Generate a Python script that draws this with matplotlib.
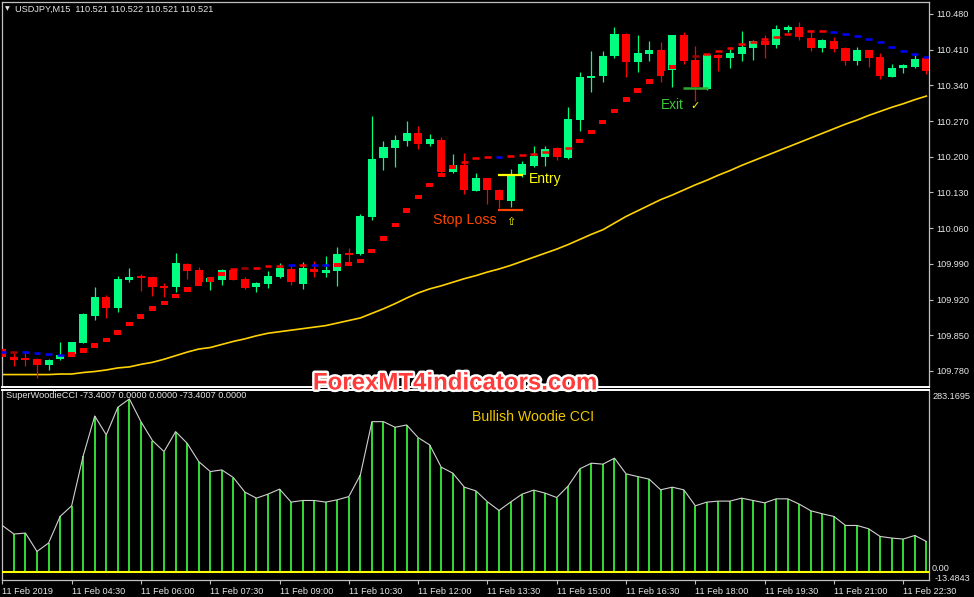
import numpy as np
import matplotlib
matplotlib.use("Agg")
import matplotlib.pyplot as plt
import matplotlib.patheffects as pe
from matplotlib import transforms

plt.rcParams["font.family"] = ["Liberation Sans", "DejaVu Sans"]

nan = float("nan")

# USDJPY M15, 11 Feb 2019, one bar per 15 minutes starting 03:00
opens = [109.823, 109.807, 109.804, 109.804, 109.792, 109.803, 109.813, 109.835, 109.888, 109.925,
         109.904, 109.958, 109.966, 109.964, 109.946, 109.945, 109.990, 109.978, 109.954, 109.959,
         109.978, 109.960, 109.945, 109.951, 109.965, 109.980, 109.951, 109.979, 109.973, 109.977,
         110.010, 110.009, 110.081, 110.198, 110.218, 110.231, 110.247, 110.225, 110.233, 110.171,
         110.184, 110.133, 110.158, 110.135, 110.113, 110.164, 110.182, 110.200, 110.218, 110.198,
         110.272, 110.356, 110.359, 110.398, 110.441, 110.386, 110.402, 110.409, 110.370, 110.438,
         110.390, 110.333, 110.400, 110.393, 110.402, 110.414, 110.427, 110.419, 110.449, 110.454,
         110.432, 110.414, 110.427, 110.414, 110.388, 110.409, 110.396, 110.357, 110.376, 110.377,
         110.393]
highs = [109.828, 109.815, 109.818, 109.805, 109.804, 109.836, 109.837, 109.894, 109.945, 109.929,
         109.966, 109.981, 109.970, 109.965, 109.952, 110.011, 109.991, 109.984, 109.965, 109.980,
         109.979, 109.965, 109.955, 109.976, 109.991, 109.986, 109.994, 109.996, 110.006, 110.024,
         110.022, 110.088, 110.279, 110.230, 110.243, 110.271, 110.260, 110.245, 110.239, 110.205,
         110.207, 110.169, 110.159, 110.137, 110.177, 110.192, 110.221, 110.222, 110.219, 110.297,
         110.367, 110.407, 110.408, 110.454, 110.442, 110.439, 110.427, 110.425, 110.439, 110.444,
         110.418, 110.401, 110.401, 110.413, 110.447, 110.429, 110.439, 110.458, 110.458, 110.465,
         110.449, 110.431, 110.434, 110.415, 110.415, 110.410, 110.403, 110.381, 110.381, 110.400,
         110.396]
lows = [109.796, 109.790, 109.790, 109.767, 109.782, 109.802, 109.811, 109.834, 109.879, 109.883,
        109.896, 109.955, 109.937, 109.927, 109.926, 109.934, 109.960, 109.949, 109.939, 109.949,
        109.958, 109.941, 109.935, 109.943, 109.963, 109.949, 109.941, 109.965, 109.965, 109.947,
        109.988, 110.007, 110.076, 110.174, 110.179, 110.221, 110.215, 110.221, 110.168, 110.168,
        110.127, 110.132, 110.107, 110.099, 110.101, 110.161, 110.179, 110.182, 110.194, 110.195,
        110.251, 110.328, 110.347, 110.393, 110.357, 110.366, 110.388, 110.347, 110.336, 110.381,
        110.309, 110.331, 110.369, 110.375, 110.388, 110.390, 110.394, 110.414, 110.445, 110.429,
        110.407, 110.405, 110.406, 110.380, 110.379, 110.377, 110.352, 110.356, 110.364, 110.374,
        110.362]
closes = [109.807, 109.802, 109.803, 109.792, 109.802, 109.811, 109.836, 109.892, 109.925, 109.904,
          109.960, 109.964, 109.964, 109.945, 109.944, 109.991, 109.976, 109.955, 109.963, 109.978,
          109.958, 109.943, 109.953, 109.966, 109.981, 109.954, 109.981, 109.975, 109.978, 110.009,
          110.008, 110.084, 110.196, 110.220, 110.233, 110.247, 110.226, 110.235, 110.170, 110.184,
          110.134, 110.158, 110.134, 110.115, 110.164, 110.185, 110.202, 110.216, 110.200, 110.274,
          110.357, 110.358, 110.398, 110.441, 110.385, 110.403, 110.409, 110.369, 110.438, 110.388,
          110.337, 110.400, 110.393, 110.403, 110.416, 110.427, 110.419, 110.451, 110.455, 110.434,
          110.414, 110.429, 110.412, 110.388, 110.409, 110.394, 110.358, 110.375, 110.378, 110.391,
          110.368]

# slow moving average (yellow)
ma = [109.773, 109.773, 109.773, 109.773, 109.773, 109.774, 109.774, 109.777, 109.779, 109.782,
      109.786, 109.788, 109.793, 109.797, 109.803, 109.810, 109.817, 109.823, 109.826, 109.832,
      109.838, 109.843, 109.849, 109.854, 109.857, 109.860, 109.863, 109.866, 109.869, 109.874,
      109.879, 109.884, 109.893, 109.902, 109.912, 109.923, 109.933, 109.941, 109.947, 109.954,
      109.961, 109.967, 109.974, 109.980, 109.987, 109.995, 110.003, 110.011, 110.019, 110.028,
      110.038, 110.048, 110.057, 110.070, 110.083, 110.094, 110.105, 110.116, 110.125, 110.135,
      110.145, 110.154, 110.164, 110.173, 110.183, 110.192, 110.201, 110.210, 110.219, 110.228,
      110.237, 110.246, 110.255, 110.264, 110.272, 110.281, 110.289, 110.297, 110.304, 110.312,
      110.319]

# trailing stop dots below price (uptrend)
stops = [nan, nan, nan, nan, nan, nan, 109.812, 109.820, 109.830, 109.841,
         109.856, 109.872, 109.887, 109.902, 109.913, 109.927, 109.940, 109.952, 109.959, 109.970,
         nan, nan, nan, nan, nan, nan, nan, nan, nan, 109.988,
         109.990, 109.996, 110.015, 110.040, 110.066, 110.095, 110.121, 110.145, 110.164, 110.180,
         nan, nan, nan, nan, nan, nan, nan, nan, nan, nan,
         110.231, 110.249, 110.268, 110.290, 110.312, 110.330, 110.348, 110.363, 110.376, nan,
         nan, nan, nan, nan, nan, nan, nan, nan, nan, nan,
         nan, nan, nan, nan, nan, nan, nan, nan, nan, nan,
         nan]

# dashed line above price (downtrend) and its colour per bar: r red, d dark red, b blue
dash_line = [109.817, 109.817, 109.817, 109.815, 109.813, 109.811, nan, nan, nan, nan,
             nan, nan, nan, nan, nan, nan, nan, nan, nan, nan,
             109.980, 109.981, 109.982, 109.985, 109.986, 109.987, 109.987, 109.987, 109.987, nan,
             nan, nan, nan, nan, nan, nan, nan, nan, nan, nan,
             110.189, 110.198, 110.200, 110.200, 110.201, 110.203, 110.205, 110.209, 110.213, 110.217,
             nan, nan, nan, nan, nan, nan, nan, nan, nan, 110.394,
             110.398, 110.401, 110.408, 110.414, 110.421, 110.425, 110.431, 110.435, 110.441, 110.444,
             110.446, 110.446, 110.445, 110.441, 110.436, 110.431, 110.425, 110.415, 110.407, 110.402,
             110.396]
dash_kind = ("bdbbbb" + "." * 14 + "rdrrrbrbb" + "." * 11 + "rrrbrrrrrr" + "." * 9
             + "rdrrrrrrrrrrr" + "bbbbbbbbb")

# SuperWoodieCCI histogram
cci = [74.9, 61.0, 62.6, 32.8, 46.4, 89.5, 106.8, 187.7, 252.4, 221.7,
       266.5, 280.0, 243.2, 212.4, 194.6, 227.0, 208.2, 178.5, 162.3, 165.0,
       152.6, 129.0, 119.2, 125.7, 133.8, 112.8, 115.4, 115.4, 112.8, 116.5,
       121.8, 157.0, 243.2, 243.2, 234.1, 237.8, 217.3, 205.5, 169.4, 159.7,
       137.0, 131.0, 113.3, 99.2, 112.8, 125.7, 132.2, 127.3, 120.2, 139.1,
       166.7, 175.9, 174.3, 184.0, 158.6, 154.2, 150.0, 132.7, 137.0, 132.7,
       106.8, 112.8, 114.4, 114.4, 119.2, 115.4, 111.6, 118.1, 118.1, 109.5,
       98.7, 93.8, 89.5, 74.9, 74.9, 69.6, 57.1, 54.5, 52.9, 58.7,
       49.0]

price_ticks = [109.780, 109.850, 109.920, 109.990, 110.060, 110.130,
               110.200, 110.270, 110.340, 110.410, 110.480]
time_ticks = [0, 6, 12, 18, 24, 30, 36, 42, 48, 54, 60, 66, 72, 78]
time_labels = ["11 Feb 2019", "11 Feb 04:30", "11 Feb 06:00", "11 Feb 07:30", "11 Feb 09:00",
               "11 Feb 10:30", "11 Feb 12:00", "11 Feb 13:30", "11 Feb 15:00", "11 Feb 16:30",
               "11 Feb 18:00", "11 Feb 19:30", "11 Feb 21:00", "11 Feb 22:30"]

entry_price, stop_price, exit_price = 110.164, 110.096, 110.334
entry_bars = (42.95, 45.05)
exit_bars = (58.95, 61.1)

BULL = "#00FF80"
BEAR = "#FF0000"
AXC = "#C0C0C0"
TXT = "#E6E6E6"
W, H = 974, 597

fig = plt.figure(figsize=(W / 100, H / 100), dpi=100, facecolor="black")
ax = fig.add_axes([2 / W, (H - 387) / H, 927 / W, 385 / H], facecolor="black")
ax2 = fig.add_axes([2 / W, (H - 580) / H, 927 / W, 190 / H], facecolor="black")

idx = np.arange(len(opens))
o, hi, lo, c = (np.array(v) for v in (opens, highs, lows, closes))
up = c >= o
col = np.where(up, BULL, BEAR)

# candles
ax.plot(idx, ma, color="#FFD200", lw=1.2, zorder=1)
ax.vlines(idx, lo, hi, colors=col, lw=0.9, zorder=2)
body = np.maximum(np.abs(c - o), 0.004)
bottom = np.where(np.abs(c - o) < 0.004, (o + c) / 2 - 0.002, np.minimum(o, c))
ax.bar(idx, body, bottom=bottom, width=0.7, color=col, linewidth=0, zorder=3)

# stops and dashes
st = np.array(stops)
ax.bar(idx, 0.009, bottom=st - 0.0045, width=0.6, color="#FF0000", linewidth=0, zorder=4)
kind_col = {"r": "#FF0000", "d": "#A00000", "b": "#0000FF"}
for i, (v, k) in enumerate(zip(dash_line, dash_kind)):
    if k != ".":
        ax.hlines(v, i - 0.3, i + 0.3, colors=kind_col[k], lw=1.8, zorder=4)

# trade annotations
ax.hlines(entry_price, *entry_bars, colors="#FFFF00", lw=1.6, zorder=5)
ax.hlines(stop_price, *entry_bars, colors="#FF4500", lw=1.6, zorder=5)
ax.hlines(exit_price, *exit_bars, colors="#2EA82E", lw=1.8, zorder=5)
ax.text(45.6, 110.156, "Entry", color="#FFFF00", fontsize=10, va="center", ha="left")
ax.text(37.3, 110.077, "Stop Loss", color="#FF4500", fontsize=10.3, va="center", ha="left")
ax.text(44.0, 110.072, "\u21e7", color="#FFFF00", fontsize=8, va="center", ha="center",
        family=["DejaVu Sans"])
ax.text(57.0, 110.302, "Exit", color="#3CC83C", fontsize=9.8, va="center", ha="left")
ax.text(60.0, 110.300, "\u2713", color="#FFFF00", fontsize=8, va="center", ha="center",
        family=["DejaVu Sans"])

ax.set_xlim(-0.03, 80.23)
ax.set_ylim(109.7486, 110.5035)
ax.set_yticks(price_ticks)
ax.set_yticklabels(["%.3f" % p for p in price_ticks])
ax.yaxis.tick_right()
ax.tick_params(axis="y", length=3, width=0.8, color=AXC, labelcolor=TXT, labelsize=6.6, pad=2)
ax.tick_params(axis="x", bottom=False, labelbottom=False)
for side in ("left", "top", "right"):
    ax.spines[side].set_color(AXC)
    ax.spines[side].set_linewidth(0.9)
ax.spines["bottom"].set_color("white")
ax.spines["bottom"].set_linewidth(1.4)

# CCI panel
ax2.vlines(idx, 0, cci, colors="#33DD33", lw=1.4, zorder=2)
ax2.plot(idx, cci, color="#D0D0D0", lw=0.8, zorder=3)
ax2.axhline(0, color="#FFFF00", lw=1.5, zorder=4)
ax2.set_xlim(-0.03, 80.23)
ax2.set_ylim(-13.48, 294.5)
ax2.set_yticks([])
ax2.set_xticks(time_ticks)
ax2.set_xticklabels(time_labels)
for lbl in ax2.get_xticklabels():
    lbl.set_ha("left")
ax2.tick_params(axis="x", length=3, width=0.8, color=AXC, labelcolor=TXT, labelsize=6.6, pad=2)
for side in ("left", "bottom", "right"):
    ax2.spines[side].set_color(AXC)
    ax2.spines[side].set_linewidth(0.9)
ax2.spines["top"].set_color("white")
ax2.spines["top"].set_linewidth(1.4)

tr = transforms.blended_transform_factory(ax2.transAxes, ax2.transData)
ax2.text(1.0033, 283.17, "283.1695", transform=tr, color=TXT, fontsize=6.6, va="center")
ax2.text(1.0033, 5.5, "0.00", transform=tr, color=TXT, fontsize=6.6, va="center")
ax2.text(1.0055, -11.5, "-13.4843", transform=tr, color=TXT, fontsize=6.6, va="center")
ax2.text(0.507, 0.86, "Bullish Woodie CCI", transform=ax2.transAxes, color="#F0C800",
         fontsize=10.2, va="center", ha="left")

# headers
fig.text(5 / W, 1 - 9 / H, "\u25bc", color=TXT, fontsize=4.5, va="center", family=["DejaVu Sans"])
fig.text(15 / W, 1 - 9 / H, "USDJPY,M15  110.521 110.522 110.521 110.521", color=TXT,
         fontsize=6.6, va="center")
fig.text(6 / W, 1 - 396 / H, "SuperWoodieCCI -73.4007 0.0000 0.0000 -73.4007 0.0000", color=TXT,
         fontsize=6.6, va="center")

# watermark
fig.text(455 / W, 1 - 383 / H, "ForexMT4indicators.com", color="#FF3C3C", fontsize=17.3,
         fontweight="bold", ha="center", va="center", zorder=10,
         path_effects=[pe.withStroke(linewidth=3.5, foreground="white")])

fig.savefig("out.png", dpi=100, facecolor="black")
